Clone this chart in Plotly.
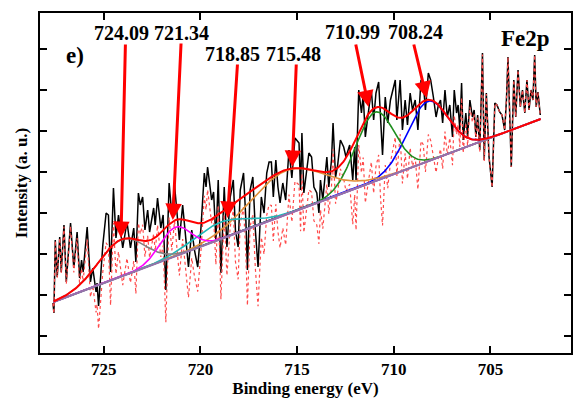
import numpy as np
import plotly.graph_objects as go

# ---- measured spectrum (binding energy in eV, intensity in a.u.) ----
energy = [727.63, 727.58, 727.51, 727.41, 727.28, 727.20, 727.06, 726.94, 726.72, 726.55,
          726.38, 726.25, 726.15, 726.07, 725.86, 725.69, 725.57, 725.40, 725.35, 725.27,
          725.05, 724.88, 724.76, 724.65, 724.50, 724.37, 724.24, 724.02, 723.80, 723.62,
          723.45, 723.34, 723.21, 723.11, 722.99, 722.87, 722.73, 722.63, 722.42, 722.34,
          722.22, 722.05, 721.93, 721.79, 721.62, 721.48, 721.34, 721.09, 720.92, 720.62,
          720.45, 720.31, 720.14, 719.97, 719.80, 719.71, 719.63, 719.50, 719.42, 719.32,
          719.20, 719.08, 718.94, 718.77, 718.63, 718.46, 718.30, 718.19, 718.05, 717.94,
          717.77, 717.65, 717.57, 717.43, 717.29, 717.16, 717.02, 716.85, 716.71, 716.57,
          716.45, 716.33, 716.23, 716.10, 715.99, 715.88, 715.74, 715.59, 715.42, 715.27,
          715.11, 714.90, 714.82, 714.75, 714.65, 714.39, 714.25, 714.13, 713.98, 713.87,
          713.79, 713.67, 713.46, 713.36, 713.22, 713.14, 713.01, 712.90, 712.76, 712.59,
          712.47, 712.28, 712.12, 712.02, 711.95, 711.81, 711.67, 711.58, 711.47, 711.33,
          711.16, 711.04, 710.92, 710.78, 710.68, 710.58, 710.44, 710.31, 710.17, 709.92,
          709.84, 709.67, 709.55, 709.41, 709.29, 709.15, 709.03, 708.89, 708.75, 708.59,
          708.47, 708.36, 708.21, 708.09, 707.95, 707.81, 707.69, 707.58, 707.47, 707.35,
          707.23, 707.10, 706.96, 706.87, 706.75, 706.67, 706.58, 706.49, 706.41, 706.27,
          706.18, 706.06, 705.93, 705.84, 705.75, 705.66, 705.55, 705.41, 705.32, 705.21,
          705.07, 704.91, 704.77, 704.66, 704.52, 704.40, 704.26, 704.17, 704.09, 704.01,
          703.92, 703.79, 703.69, 703.57, 703.45, 703.34, 703.22, 703.11, 703.00, 702.90,
          702.80, 702.71, 702.63, 702.54, 702.42]
intensity = [97, 87, 160, 123, 163, 128, 175, 118, 177, 132,
             168, 122, 140, 128, 173, 118, 132, 108, 117, 94,
             155, 187, 185, 128, 212, 162, 185, 152, 178, 152,
             172, 138, 207, 195, 203, 170, 190, 168, 192, 175,
             202, 172, 185, 110, 217, 185, 215, 160, 195, 133,
             170, 150, 133, 173, 227, 213, 233, 208, 200, 208,
             160, 220, 127, 213, 153, 203, 220, 170, 153, 210,
             227, 180, 130, 210, 223, 170, 133, 203, 187, 227,
             238, 238, 203, 240, 213, 197, 217, 200, 250, 222,
             262, 257, 210, 267, 207, 247, 243, 213, 207, 187,
             220, 200, 243, 213, 240, 277, 223, 235, 260, 253,
             243, 255, 220, 253, 220, 310, 287, 305, 263, 285,
             310, 280, 307, 318, 273, 245, 303, 277, 300, 320,
             280, 320, 270, 300, 275, 307, 290, 300, 270, 320,
             317, 290, 327, 320, 303, 283, 295, 300, 277, 310,
             283, 295, 263, 310, 287, 295, 270, 317, 260, 287,
             263, 300, 283, 290, 263, 285, 250, 347, 240, 307,
             243, 213, 297, 295, 288, 285, 270, 300, 343, 300,
             233, 320, 283, 330, 293, 310, 287, 320, 290, 310,
             300, 345, 293, 308, 285]

# ---- linear background ----
bg_energy = [727.6, 702.4]
bg_intensity = [98, 281]

# ---- fitted components ----
peak_labels = ["724.09", "721.34", "718.85", "715.48", "710.99", "708.24"]
peak_centers = [724.09, 721.30, 718.95, 715.55, 710.97, 708.25]
peak_heights = [37, 29, 17, 44, 69, 60]
peak_sigmas = [1.2, 0.8, 1.4, 1.9, 1.0, 1.05]
peak_colors = ["#808080", "#ff00ff", "#20b8b8", "#e0903a", "#1f8f1f", "#0000ff"]
draw_order = [5, 4, 3, 2, 0, 1]

# arrow tip/tail and label positions (data coordinates)
arrow_tip_x = [724.11, 721.43, 718.60, 715.25, 711.30, 708.30]
arrow_tip_y = [162, 180, 182, 233, 293, 302]
arrow_tail_x = [723.88, 721.00, 718.08, 715.04, 711.98, 708.98]
arrow_tail_y = [357, 358, 337, 337, 357, 357]
label_x = [724.07, 720.98, 718.36, 715.21, 712.15, 708.90]
label_y = [367, 367, 346, 346, 368, 368]

x_fit = np.linspace(bg_energy[0], bg_energy[1], 500)
bg_fit = np.interp(x_fit[::-1], bg_energy[::-1], bg_intensity[::-1])[::-1]


def comp(x, c, h, s):
    return h * np.exp(-((np.asarray(x) - c) ** 2) / (2 * s * s))


peak_sum_fit = sum(comp(x_fit, c, h, s) for c, h, s in zip(peak_centers, peak_heights, peak_sigmas))
peak_sum_data = sum(comp(energy, c, h, s) for c, h, s in zip(peak_centers, peak_heights, peak_sigmas))
residual = np.asarray(intensity) - peak_sum_data

fig = go.Figure()
fig.add_trace(go.Scatter(x=energy, y=intensity, mode="lines",
                         line=dict(color="black", width=1.5), showlegend=False))
fig.add_trace(go.Scatter(x=energy, y=residual, mode="lines",
                         line=dict(color="#ff4a4a", width=1.2, dash="dot"), showlegend=False))
for i in draw_order:
    c, h, s, col = peak_centers[i], peak_heights[i], peak_sigmas[i], peak_colors[i]
    fig.add_trace(go.Scatter(x=x_fit, y=bg_fit + comp(x_fit, c, h, s), mode="lines",
                             line=dict(color=col, width=1.6), showlegend=False))
fig.add_trace(go.Scatter(x=x_fit, y=bg_fit, mode="lines",
                         line=dict(color="#9474a8", width=2), showlegend=False))
fig.add_trace(go.Scatter(x=x_fit, y=bg_fit + peak_sum_fit, mode="lines",
                         line=dict(color="#ff0000", width=2), showlegend=False))

serif = "Liberation Serif, Times New Roman, serif"
for i in range(len(peak_labels)):
    fig.add_annotation(x=arrow_tip_x[i], y=arrow_tip_y[i], ax=arrow_tail_x[i], ay=arrow_tail_y[i],
                       axref="x", ayref="y", xref="x", yref="y", text="", showarrow=True,
                       arrowhead=2, arrowsize=1.1, arrowwidth=3, arrowcolor="#ff0000")
    fig.add_annotation(x=label_x[i], y=label_y[i], xref="x", yref="y", text=peak_labels[i],
                       showarrow=False, xanchor="center", yanchor="middle",
                       font=dict(family=serif, size=20, color="black", weight="bold"))

fig.add_annotation(x=0.914, y=0.925, xref="paper", yref="paper", text="Fe2p", showarrow=False,
                   xanchor="center", yanchor="middle",
                   font=dict(family=serif, size=23, color="black", weight="bold"))
fig.add_annotation(x=0.066, y=0.876, xref="paper", yref="paper", text="e)", showarrow=False,
                   xanchor="center", yanchor="middle",
                   font=dict(family=serif, size=23, color="black", weight="bold"))

axis_common = dict(showline=True, linecolor="black", linewidth=2, mirror="ticks",
                   ticks="inside", ticklen=7, tickwidth=1.5, tickcolor="black",
                   showgrid=False, zeroline=False)
fig.update_xaxes(range=[728.30, 700.83], tick0=700, dtick=5,
                 tickfont=dict(family=serif, size=17, color="black", weight="bold"),
                 title=dict(text="Binding energy (eV)", standoff=0,
                            font=dict(family=serif, size=17, color="black", weight="bold")),
                 **axis_common)
fig.update_yaxes(range=[47, 387], tick0=64, dtick=41, showticklabels=False,
                 title=dict(text="Intensity (a. u.)", standoff=6,
                            font=dict(family=serif, size=17, color="black", weight="bold")),
                 **axis_common)
fig.update_layout(width=575, height=402, margin=dict(l=40, r=2, t=13, b=49),
                  plot_bgcolor="white", paper_bgcolor="white", showlegend=False)
fig.write_html("out.html")
